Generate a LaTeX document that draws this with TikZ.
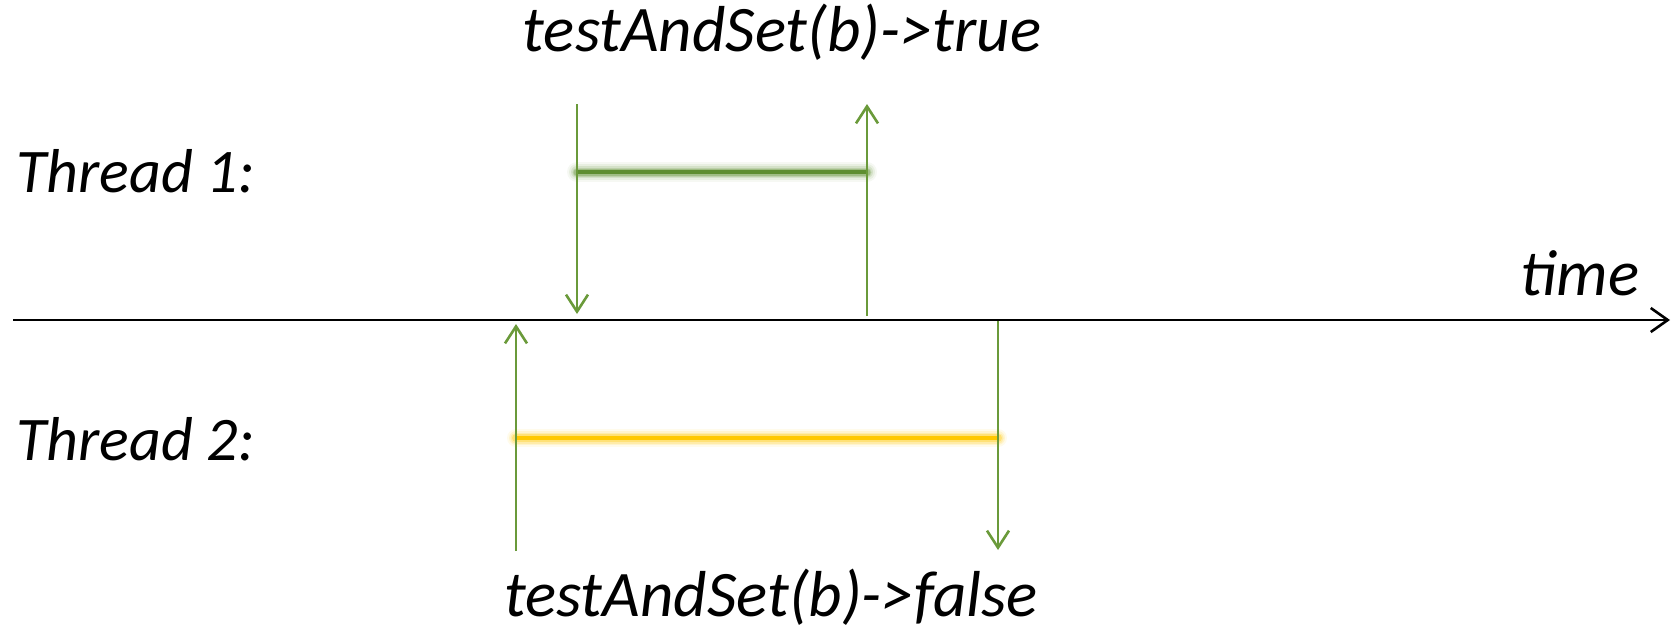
\documentclass[tikz,border=0pt]{standalone}
\usepackage{fontspec}
\setmainfont{Carlito}
\usetikzlibrary{arrows.meta}
\definecolor{arrgreen}{HTML}{6A9A3A}
\definecolor{bargreen}{HTML}{5E8E30}
\definecolor{baryellow}{HTML}{FFC800}
\tikzset{
  lbl/.style={font=\fontsize{65}{72}\selectfont\itshape, inner sep=0pt, anchor=center},
  thr/.style={font=\fontsize{62}{70}\selectfont\itshape, inner sep=0pt, anchor=west},
  sig/.style={draw=arrgreen, line width=2.6pt, -{Straight Barb[length=17pt,width=22pt,line width=2.6pt]}},
  axisline/.style={draw=black, line width=2.8pt, -{Straight Barb[length=17pt,width=24pt,line width=2.6pt]}},
}
\begin{document}
\begin{tikzpicture}[x=1pt,y=-1pt]
\useasboundingbox (0,0) rectangle (1679,633);
% axis
\coordinate (ax0) at (13,320);
\coordinate (ax1) at (1670,320);
\draw[axisline] (ax0) -- (ax1);
% labels
\node[thr] (t1) at (16,171) {Thread 1:};
\node[thr] (t2) at (16,439) {Thread 2:};
\node[lbl] (time) at (1580,273) {time};
\node[lbl] (tas1) at (782,32) {testAndSet(b)->true};
\node[lbl] (tas2) at (771,597) {testAndSet(b)->false};
% thread 1
\coordinate (a1s) at (577,104);
\coordinate (a1e) at (577,314);
\coordinate (b1s) at (867,316);
\coordinate (b1e) at (867,104);
\coordinate (g1l) at (577,172);
\coordinate (g1r) at (867,172);
\foreach \w/\o in {20/0.06,16/0.09,12/0.14,9/0.2,7/0.3} {
  \draw[line width=\w pt, draw=bargreen, opacity=\o, line cap=round] (g1l) -- (g1r);
}
\draw[line width=4.5pt, draw=bargreen] (g1l) -- (g1r);
\draw[sig] (a1s) -- (a1e);
\draw[sig] (b1s) -- (b1e);
% thread 2
\coordinate (c2s) at (516,551);
\coordinate (c2e) at (516,324);
\coordinate (d2s) at (998,321);
\coordinate (d2e) at (998,550);
\coordinate (y2l) at (516,438);
\coordinate (y2r) at (998,438);
\foreach \w/\o in {18/0.08,14/0.12,11/0.18,8/0.3} {
  \draw[line width=\w pt, draw=baryellow, opacity=\o, line cap=round] (y2l) -- (y2r);
}
\draw[line width=4.5pt, draw=baryellow] (y2l) -- (y2r);
\draw[sig] (c2s) -- (c2e);
\draw[sig] (d2s) -- (d2e);
\end{tikzpicture}
\end{document}
